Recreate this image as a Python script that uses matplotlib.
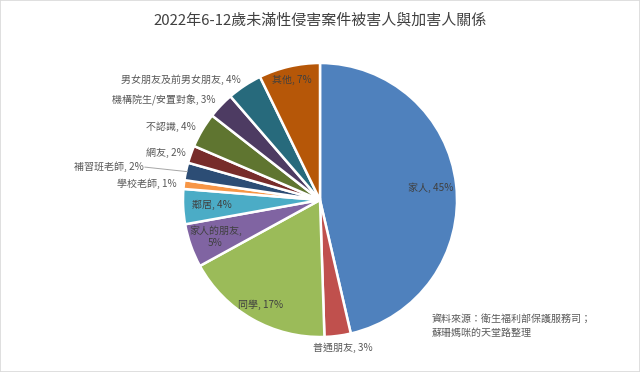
import numpy as np
import matplotlib
matplotlib.use("Agg")
import matplotlib.pyplot as plt
from matplotlib.patches import Rectangle

plt.rcParams['font.family'] = ['Noto Sans CJK TC', 'DejaVu Sans']

title = "2022年6-12歲未滿性侵害案件被害人與加害人關係"
categories = ["家人", "普通朋友", "同學", "家人的朋友", "鄰居", "學校老師",
              "補習班老師", "網友", "不認識", "機構院生/安置對象",
              "男女朋友及前男女朋友", "其他"]
values = [45, 3, 17, 5, 4, 1, 2, 2, 4, 3, 4, 7]
colors = ["#4F81BD", "#C0504D", "#9BBB59", "#8064A2", "#4BACC6", "#F79646",
          "#2C4D75", "#772C2A", "#5F7530", "#4D3B62", "#276A7C", "#B65708"]
source = "資料來源：衛生福利部保護服務司；\n蘇珊媽咪的天堂路整理"

# label placement: radius factor, angle tweak (deg), mode
label_r = [0.81, 1.09, 0.88, 0.81, 0.79, 1.05, 1.31, 1.04, 1.05, 1.05, 1.05, 0.90]
label_da = [0, 1.5, 0, 0, 0, 0, 1.5, 0, 0, 0, 0, 0]
label_mode = ["in", "out_c", "in", "in2", "in", "out", "out_line", "out", "out", "out", "out", "in"]

W, H = 640, 372
fig = plt.figure(figsize=(W / 100, H / 100), dpi=100)
fig.patches.append(Rectangle((0, 0), 1, 1, transform=fig.transFigure,
                             facecolor="white", edgecolor="#D9D9D9", lw=1.2, zorder=-1))

cx, cy, R = 320, 200, 137
ax = fig.add_axes([(cx - R) / W, (H - cy - R) / H, 2 * R / W, 2 * R / H])

wedges, _ = ax.pie(values, colors=colors, startangle=90, counterclock=False,
                   radius=1, wedgeprops=dict(edgecolor="white", linewidth=1.8))
ax.set_xlim(-1, 1)
ax.set_ylim(-1, 1)
ax.set_aspect('equal')
ax.axis('off')

txtc = "#404040"
fs = 7.2
for w, cat, v, r, da, mode in zip(wedges, categories, values, label_r, label_da, label_mode):
    mid = (w.theta1 + w.theta2) / 2
    ang = np.deg2rad(mid + da)
    x, y = r * np.cos(ang), r * np.sin(ang)
    if mode == "in":
        ax.text(x, y, f"{cat}, {v}%", ha="center", va="center", fontsize=fs, color=txtc)
    elif mode == "in2":
        ax.text(x, y, f"{cat},\n{v}%", ha="center", va="center", fontsize=fs,
                color=txtc, linespacing=1.3)
    elif mode == "out_c":
        ax.text(x, y, f"{cat}, {v}%", ha="center", va="center", fontsize=fs, color="#595959")
    elif mode == "out":
        ax.text(x, y, f"{cat}, {v}%", ha="right", va="center", fontsize=fs, color="#595959")
    else:
        ax.text(x, y, f"{cat}, {v}%", ha="right", va="center", fontsize=fs, color="#595959")
        ea = np.deg2rad(mid)
        ex, ey = 0.99 * np.cos(ea), 0.99 * np.sin(ea)
        ax.plot([x + 0.01, ex], [y, ey], color="#A6A6A6", lw=0.7, clip_on=False)

fig.text(0.5, 1 - 20 / H, title, ha="center", va="center", fontsize=10.8, color="#404040")
fig.text(432 / W, 1 - 326 / H, source, ha="left", va="center", fontsize=7.2,
         color="#595959", linespacing=1.45)

fig.savefig("out.png", dpi=100)
